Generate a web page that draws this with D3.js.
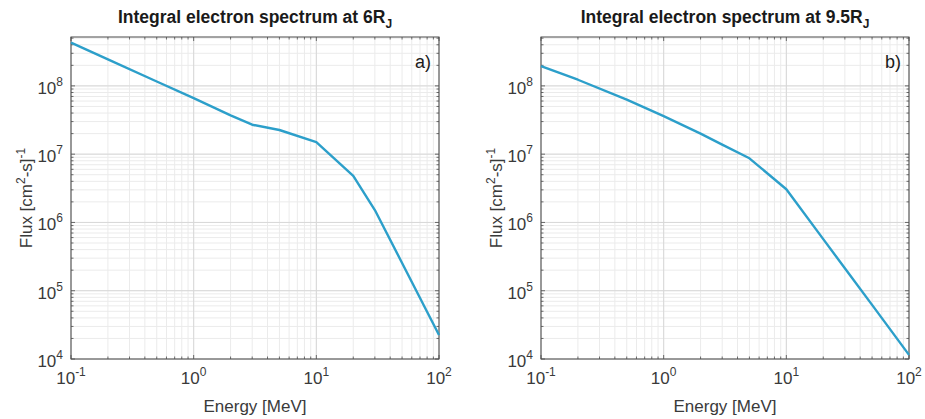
<!DOCTYPE html>
<html>
<head>
<meta charset="utf-8">
<script src="https://cdn.jsdelivr.net/npm/d3@7"></script>
<style>
  html, body { margin: 0; padding: 0; background: #fff; }
  svg { display: block; font-family: "Liberation Sans", Arial, Helvetica, sans-serif; }
</style>
</head>
<body>
<svg id="chart" width="925" height="419"></svg>
<script>
// Integral electron spectra (flux above energy E) at two radial distances
const energyMeV = [0.1, 0.2, 0.5, 1, 2, 3, 5, 10, 20, 30, 50, 100];
const flux6RJ   = [4.3e8, 2.44e8, 1.16e8, 6.6e7, 3.7e7, 2.7e7, 2.26e7, 1.5e7, 4.8e6, 1.52e6, 2.55e5, 2.25e4];
const flux95RJ  = [1.95e8, 1.23e8, 6.3e7, 3.6e7, 2.0e7, 1.38e7, 8.7e6, 3.06e6, 5.7e5, 2.13e5, 6.2e4, 1.15e4];

const xTickExponents = [-1, 0, 1, 2];
const yTickExponents = [4, 5, 6, 7, 8];
const panelTitles = ["6", "9.5"];
const panelTags = ["a)", "b)"];

const xDomain = [0.1, 100];
const yDomain = [1e4, 5.2e8];

const svg = d3.select("#chart");
const lineColor = "#2c9fca";
const axisColor = "#4a4a4a";
const textColor = "#3a3a3a";

function minorValues(lo, hi) {
  const out = [];
  for (let e = Math.floor(Math.log10(lo)); e <= Math.ceil(Math.log10(hi)); e++) {
    for (let m = 1; m <= 9; m++) {
      const v = m * Math.pow(10, e);
      if (v >= lo * 0.999 && v <= hi * 1.001) out.push(v);
    }
  }
  return out;
}

function drawPanel(left, data, titleNum, tag) {
  const top = 37, width = 368, height = 322;
  const g = svg.append("g").attr("transform", `translate(${left},${top})`);

  const x = d3.scaleLog().domain(xDomain).range([0, width]);
  const y = d3.scaleLog().domain(yDomain).range([height, 0]);

  const xMinor = minorValues(xDomain[0], xDomain[1]);
  const yMinor = minorValues(yDomain[0], yDomain[1]);

  // grid: minor then major
  g.append("g").selectAll("line").data(xMinor).join("line")
    .attr("x1", d => x(d)).attr("x2", d => x(d))
    .attr("y1", 0).attr("y2", height)
    .attr("stroke", "#ebebeb").attr("stroke-width", 1);
  g.append("g").selectAll("line").data(yMinor).join("line")
    .attr("y1", d => y(d)).attr("y2", d => y(d))
    .attr("x1", 0).attr("x2", width)
    .attr("stroke", "#ebebeb").attr("stroke-width", 1);
  g.append("g").selectAll("line").data(xTickExponents.map(e => Math.pow(10, e))).join("line")
    .attr("x1", d => x(d)).attr("x2", d => x(d))
    .attr("y1", 0).attr("y2", height)
    .attr("stroke", "#d8d8d8").attr("stroke-width", 1);
  g.append("g").selectAll("line").data(yTickExponents.map(e => Math.pow(10, e))).join("line")
    .attr("y1", d => y(d)).attr("y2", d => y(d))
    .attr("x1", 0).attr("x2", width)
    .attr("stroke", "#d8d8d8").attr("stroke-width", 1);

  // inward ticks on all four sides
  const majLen = 4, minLen = 2.5;
  const xMajors = xTickExponents.map(e => Math.pow(10, e));
  const yMajors = yTickExponents.map(e => Math.pow(10, e));
  const tickG = g.append("g").attr("stroke", axisColor).attr("stroke-width", 0.8);
  [[0, 1], [height, -1]].forEach(([yy, dir]) => {
    tickG.append("g").selectAll("line").data(xMinor).join("line")
      .attr("x1", d => x(d)).attr("x2", d => x(d))
      .attr("y1", yy).attr("y2", d => yy + dir * (xMajors.includes(d) ? majLen : minLen));
  });
  [[0, 1], [width, -1]].forEach(([xx, dir]) => {
    tickG.append("g").selectAll("line").data(yMinor).join("line")
      .attr("y1", d => y(d)).attr("y2", d => y(d))
      .attr("x1", xx).attr("x2", d => xx + dir * (yMajors.includes(d) ? majLen : minLen));
  });

  // axes box
  g.append("rect").attr("x", 0).attr("y", 0).attr("width", width).attr("height", height)
    .attr("fill", "none").attr("stroke", axisColor).attr("stroke-width", 1);

  // spectrum line
  const line = d3.line().x(d => x(d[0])).y(d => y(d[1]));
  g.append("path").datum(energyMeV.map((e, i) => [e, data[i]]))
    .attr("d", line).attr("fill", "none")
    .attr("stroke", lineColor).attr("stroke-width", 2.4)
    .attr("stroke-linejoin", "round");

  // x tick labels
  xTickExponents.forEach(e => {
    const t = g.append("text").attr("x", x(Math.pow(10, e))).attr("y", height + 25)
      .attr("text-anchor", "middle").attr("fill", textColor).attr("font-size", 17);
    t.append("tspan").text("10");
    t.append("tspan").attr("dy", -8).attr("font-size", 12).text(String(e));
  });
  // y tick labels
  yTickExponents.forEach(e => {
    const t = g.append("text").attr("x", -8).attr("y", y(Math.pow(10, e)) + 8)
      .attr("text-anchor", "end").attr("fill", textColor).attr("font-size", 17);
    t.append("tspan").text("10");
    t.append("tspan").attr("dy", -8).attr("font-size", 12).text(String(e));
  });

  // axis labels
  g.append("text").attr("x", width / 2).attr("y", height + 53)
    .attr("text-anchor", "middle").attr("fill", textColor).attr("font-size", 17)
    .text("Energy [MeV]");
  const yl = g.append("text")
    .attr("transform", `translate(-39,${height / 2}) rotate(-90)`)
    .attr("text-anchor", "middle").attr("fill", textColor).attr("font-size", 17);
  yl.append("tspan").text("Flux [cm");
  yl.append("tspan").attr("dy", -7).attr("font-size", 12).text("2");
  yl.append("tspan").attr("dy", 7).text("-s]");
  yl.append("tspan").attr("dy", -7).attr("font-size", 12).text("-1");

  // title
  const tt = g.append("text").attr("x", width / 2).attr("y", -14)
    .attr("text-anchor", "middle").attr("fill", "#1a1a1a")
    .attr("font-size", 17.5).attr("font-weight", "bold");
  tt.append("tspan").text(`Integral electron spectrum at ${titleNum}R`);
  tt.append("tspan").attr("dy", 5).attr("font-size", 12).text("J");

  // panel tag
  g.append("text").attr("x", width - 8).attr("y", 31)
    .attr("text-anchor", "end").attr("fill", "#1a1a1a").attr("font-size", 18)
    .text(tag);
}

drawPanel(71, flux6RJ, panelTitles[0], panelTags[0]);
drawPanel(541, flux95RJ, panelTitles[1], panelTags[1]);
</script>
</body>
</html>
